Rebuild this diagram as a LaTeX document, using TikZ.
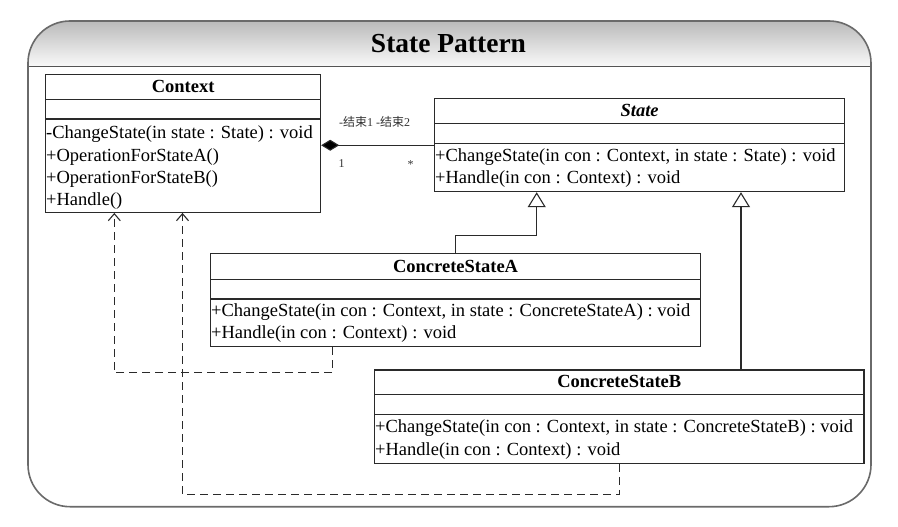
\documentclass[tikz,border=0pt]{standalone}
\usepackage{fontspec}
\setmainfont{Liberation Serif}
\newfontfamily\cjk{Noto Sans CJK SC}
\usetikzlibrary{arrows.meta,calc}
\definecolor{boxline}{HTML}{2A2A2A}
\definecolor{framecol}{HTML}{6A6A6A}
\tikzset{
  cls/.style={draw=boxline, line width=1.2pt, fill=white, inner sep=0pt, anchor=north west},
  cline/.style={draw=boxline, line width=1.1pt},
  cname/.style={font=\fontsize{18.5}{22}\selectfont\bfseries, inner sep=0pt},
  meth/.style={font=\fontsize{18.5}{22}\selectfont, inner sep=0pt, anchor=base west},
  small/.style={font=\fontsize{12}{14}\selectfont, inner sep=0pt, text=black!80},
  gen/.style={draw=boxline, line width=1.1pt, -{Triangle[open, length=15pt, width=18pt, line width=1.1pt]}},
  dep/.style={draw=boxline, line width=1.1pt, dash pattern=on 8pt off 5pt, -{Straight Barb[length=7pt, width=12pt, line width=1.1pt]}},
  assoc/.style={draw=boxline, line width=1.1pt, {Diamond[length=18pt, width=11pt, fill=black]}-},
}
\begin{document}
\begin{tikzpicture}[x=1pt, y=-1pt]
\path[use as bounding box, fill=white] (0,0) rectangle (898,527);
% frame with title band
\begin{scope}
  \clip[rounded corners=42pt] (28,21) rectangle (871,506.7);
  \shade[top color=black!27, bottom color=black!2] (28,21) rectangle (871,66.7);
\end{scope}
\draw[framecol!80!black, line width=1.2pt] (28,66.7) -- (871,66.7);
\draw[framecol, line width=1.6pt, rounded corners=42pt] (28,21) rectangle (871,506.7);
\node[font=\fontsize{27.5}{30}\selectfont\bfseries, inner sep=0pt, anchor=base] (title) at (448.5,52.7) {State Pattern};

% Context
\node[cls, minimum width=275pt, minimum height=137.4pt] (ctx) at (45,74.3) {};
\draw[cline] ($(ctx.north west)+(0,25)$) -- ($(ctx.north east)+(0,25)$);
\draw[cline] ($(ctx.north west)+(0,44.7)$) -- ($(ctx.north east)+(0,44.7)$);
\node[cname] (ctxn) at ($(ctx.north)+(0,12.5)$) {Context};
\node[meth] (ctxm1) at (46,138.3) {-ChangeState(in state : State) : void};
\node[meth] (ctxm2) at (46,161.4) {+OperationForStateA()};
\node[meth] (ctxm3) at (46,183.3) {+OperationForStateB()};
\node[meth] (ctxm4) at (46,205.0) {+Handle()};

% State
\node[cls, minimum width=410pt, minimum height=92.7pt] (st) at (434,98.3) {};
\draw[cline] ($(st.north west)+(0,25)$) -- ($(st.north east)+(0,25)$);
\draw[cline] ($(st.north west)+(0,45)$) -- ($(st.north east)+(0,45)$);
\node[cname, font=\fontsize{18.5}{22}\selectfont\bfseries\itshape] (stn) at ($(st.north)+(0,12.5)$) {State};
\node[meth] (stm1) at (435,161.7) {+ChangeState(in con : Context, in state : State) : void};
\node[meth] (stm2) at (435,183.5) {+Handle(in con : Context) : void};

% ConcreteStateA
\node[cls, minimum width=490pt, minimum height=93.3pt] (ca) at (210,252.7) {};
\draw[cline] ($(ca.north west)+(0,26.6)$) -- ($(ca.north east)+(0,26.6)$);
\draw[cline] ($(ca.north west)+(0,46.3)$) -- ($(ca.north east)+(0,46.3)$);
\node[cname] (can) at ($(ca.north)+(0,13.3)$) {ConcreteStateA};
\node[meth] (cam1) at (211,316.5) {+ChangeState(in con : Context, in state : ConcreteStateA) : void};
\node[meth] (cam2) at (211,338.7) {+Handle(in con : Context) : void};

% ConcreteStateB
\node[cls, minimum width=489.3pt, minimum height=93.4pt] (cb) at (374,369.3) {};
\draw[cline] ($(cb.north west)+(0,25)$) -- ($(cb.north east)+(0,25)$);
\draw[cline] ($(cb.north west)+(0,45)$) -- ($(cb.north east)+(0,45)$);
\node[cname] (cbn) at ($(cb.north)+(0,12.5)$) {ConcreteStateB};
\node[meth] (cbm1) at (375,432.7) {+ChangeState(in con : Context, in state : ConcreteStateB) : void};
\node[meth] (cbm2) at (375,455.0) {+Handle(in con : Context) : void};

% association
\draw[assoc] (ctx.east |- st.west) -- (st.west);
\node[small, anchor=west] (r1) at (339,122) {-{\cjk 结束}1 -{\cjk 结束}2};
\node[small] (m1) at (341.7,164) {1};
\node[small] (m2) at (410.7,165) {*};

% generalizations
\draw[gen] (ca.north) -- ++(0,-17) -| ($(st.south west)+(102.7,0)$);
\draw[gen] ($(cb.north west)+(367,0)$) -- ($(st.south west)+(307,0)$);

% dependencies
\draw[dep] ($(ca.south west)+(122.3,0)$) -- ++(0,25.7) -| ($(ctx.south west)+(69.3,0)$);
\draw[dep] ($(cb.south west)+(245.3,0)$) -- ++(0,30.6) -| ($(ctx.south west)+(137.5,0)$);
\end{tikzpicture}
\end{document}
